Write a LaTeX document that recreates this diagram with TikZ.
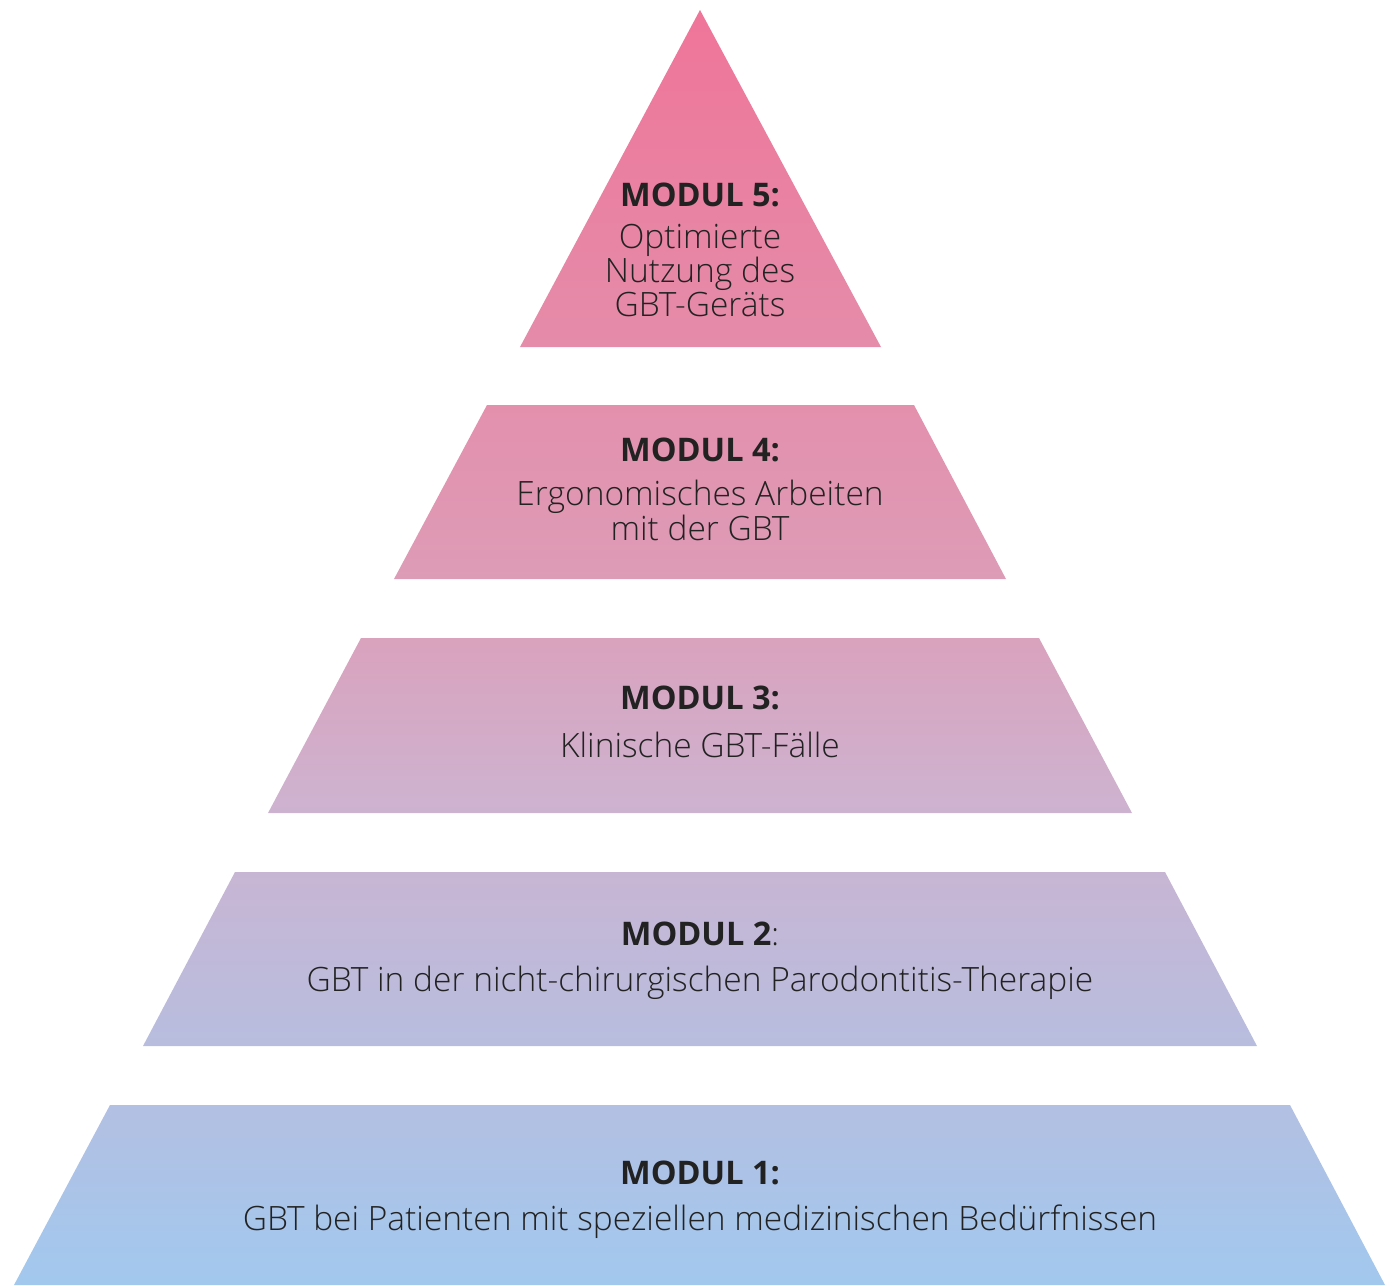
\documentclass[tikz,border=0pt]{standalone}
\usepackage{fontspec}
\setmainfont{Open Sans}[UprightFont=* Light, BoldFont=* Bold]
\definecolor{cA}{HTML}{EF7599}
\definecolor{cD}{HTML}{DE9BB5}
\definecolor{cC}{HTML}{CEB2CF}
\definecolor{cB}{HTML}{A2C8EE}
\definecolor{txt}{HTML}{222222}
\pgfdeclareverticalshading{pyr}{100bp}{color(0bp)=(cB); color(25bp)=(cB); color(44bp)=(cC); color(53.2bp)=(cD); color(75bp)=(cA); color(100bp)=(cA)}
\tikzset{
  title/.style={anchor=base, text=txt, inner sep=0pt, font=\fontsize{32.5}{32}\selectfont\bfseries},
  body/.style={anchor=base, text=txt, inner sep=0pt, align=center, font=\fontsize{33.5}{32}\selectfont}
}
\begin{document}
\begin{tikzpicture}[x=1pt,y=-1pt]
\useasboundingbox (0,0) rectangle (1397,1285);
\begin{scope}
\clip (700,10) -- (881,347) -- (520,347) -- cycle
      (487,405) -- (914,405) -- (1006,579) -- (394,579) -- cycle
      (361,638) -- (1039,638) -- (1132,813) -- (268,813) -- cycle
      (235,872) -- (1165,872) -- (1257,1046) -- (143,1046) -- cycle
      (110,1105) -- (1290,1105) -- (1385,1285) -- (14,1285) -- cycle;
\shade[shading=pyr] (0,10) rectangle (1397,1285);
\end{scope}
\node[title] (t5) at (700,206) {MODUL 5:};
\node[body] (b5) at (700,316) {Optimierte\\Nutzung des\\GBT-Geräts};
\node[title] (t4) at (700,461) {MODUL 4:};
\node[body] (b4) at (700,540) {Ergonomisches Arbeiten\\mit der GBT};
\node[title] (t3) at (700,709) {MODUL 3:};
\node[body] (b3) at (700,757) {Klinische GBT-Fälle};
\node[title] (t2) at (700,945) {MODUL 2\mdseries:};
\node[body] (b2) at (700,991) {GBT in der nicht-chirurgischen Parodontitis-Therapie};
\node[title] (t1) at (700,1184) {MODUL 1:};
\node[body] (b1) at (700,1230) {GBT bei Patienten mit speziellen medizinischen Bedürfnissen};
\end{tikzpicture}
\end{document}
